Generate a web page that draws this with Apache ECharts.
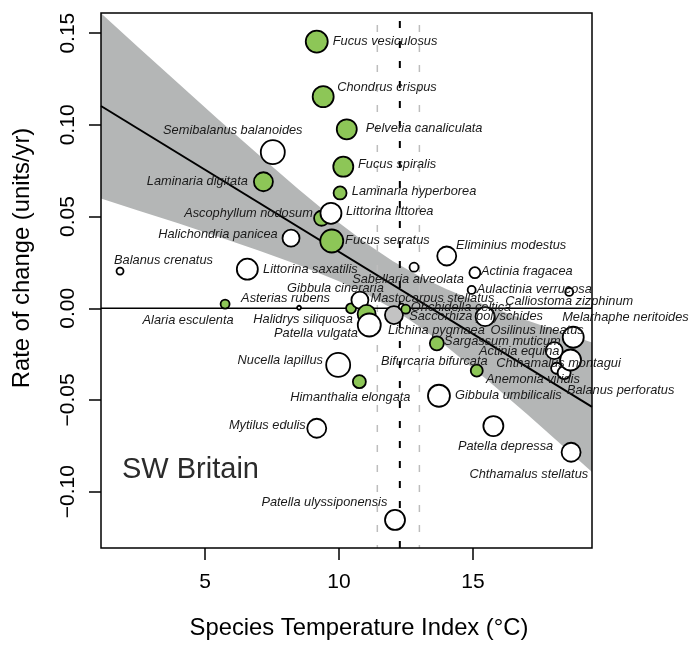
<!DOCTYPE html>
<html>
<head>
<meta charset="utf-8">
<script src="https://cdn.jsdelivr.net/npm/echarts@6/dist/echarts.min.js"></script>
<style>
  html, body { margin: 0; padding: 0; background: #fff; }
  #chart { width: 690px; height: 646px; }
</style>
</head>
<body>
<div id="chart"></div>
<script>
// Species, ordered by Species Temperature Index (drawing order)
const species = [
  'Balanus crenatus', 'Alaria esculenta', 'Littorina saxatilis', 'Laminaria digitata',
  'Semibalanus balanoides', 'Halichondria panicea', 'Asterias rubens', 'Fucus vesiculosus',
  'Mytilus edulis', 'Ascophyllum nodosum', 'Chondrus crispus', 'Littorina littorea',
  'Fucus serratus', 'Nucella lapillus', 'Laminaria hyperborea', 'Fucus spiralis',
  'Pelvetia canaliculata', 'Halidrys siliquosa', 'Himanthalia elongata', 'Gibbula cineraria',
  'Mastocarpus stellatus', 'Patella vulgata', 'Lichina pygmaea', 'Patella ulyssiponensis',
  'Onchidella celtica', 'Saccorhiza polyschides', 'Sabellaria alveolata', 'Sargassum muticum',
  'Gibbula umbilicalis', 'Eliminius modestus', 'Aulactinia verrucosa', 'Actinia fragacea',
  'Bifurcaria bifurcata', 'Osilinus lineatus', 'Patella depressa', 'Actinia equina',
  'Anemonia viridis', 'Balanus perforatus', 'Calliostoma zizphinum', 'Chthamalus montagui',
  'Chthamalus stellatus', 'Melarhaphe neritoides'
];

// Species Temperature Index (°C)
const sti = [
  1.83, 5.75, 6.58, 7.18, 7.53, 8.21, 8.51, 9.17,
  9.17, 9.35, 9.41, 9.70, 9.73, 9.97, 10.04, 10.16,
  10.29, 10.45, 10.76, 10.78, 11.03, 11.13, 12.05, 12.09,
  12.34, 12.49, 12.80, 13.65, 13.73, 14.02, 14.95, 15.07,
  15.14, 15.45, 15.76, 18.03, 18.12, 18.40, 18.59, 18.64,
  18.66, 18.74
];

// Rate of change (units/yr)
const rate = [
  0.0203, 0.0023, 0.0213, 0.0690, 0.0851, 0.0382, 0.0003, 0.1454,
  -0.0654, 0.0491, 0.1154, 0.0518, 0.0367, -0.0309, 0.0629, 0.0772,
  0.0976, 0.0000, -0.0400, 0.0045, -0.0031, -0.0091, -0.0037, -0.1154,
  0.0009, -0.0005, 0.0224, -0.0191, -0.0477, 0.0285, 0.0100, 0.0194,
  -0.0340, -0.0046, -0.0642, -0.0231, -0.0327, -0.0351, 0.0089, -0.0282,
  -0.0785, -0.0158
];

// Taxon type: A = alga, I = invertebrate, L = lichen
const taxon = [
  'I', 'A', 'I', 'A', 'I', 'I', 'I', 'A',
  'I', 'A', 'A', 'I', 'A', 'I', 'A', 'A',
  'A', 'A', 'A', 'I', 'A', 'I', 'L', 'I',
  'I', 'A', 'I', 'A', 'I', 'I', 'I', 'I',
  'A', 'I', 'I', 'I', 'I', 'I', 'I', 'I',
  'I', 'I'
];

// Marker diameters (px)
const markerSize = [
  7, 9, 21, 19, 24, 17, 4, 22,
  19, 15, 21, 21, 23, 24, 13, 20,
  20, 10, 13, 17, 18, 23, 18, 20,
  6, 9, 9, 14, 22, 19, 8, 11,
  12, 19, 20, 17, 11, 13, 8, 21,
  19, 21
];

// Label placement: [align, dx, dy] relative to the marker centre
const labelPlacement = [
  ['left', -6, -11], ['center', -37, 16], ['left', 15.7, 0], ['right', -15.6, 0],
  ['center', -40, -21.6], ['right', -13.3, -3.3], ['center', -13.5, -9.7], ['left', 16, 0],
  ['right', -11, -3], ['right', -8.7, -5], ['left', 14, -9], ['left', 15, -1.6],
  ['left', 13.3, -1], ['right', -15.3, -5], ['left', 11.7, -1], ['left', 14.7, -2.7],
  ['left', 19, -1], ['center', -48, 10.7], ['center', -9, 15.6], ['center', -24.5, -12],
  ['center', 65.8, -16], ['center', -53.3, 8], ['center', 42.5, 15], ['right', -7.7, -17.3],
  ['center', 59.3, 1.3], ['center', 70.3, 7.7], ['center', -6, 12.7], ['left', 7.3, -1.6],
  ['left', 16, 0], ['left', 9.3, -11], ['left', 5, -0.7], ['left', 6, -1.4],
  ['center', -42.5, -9], ['center', 52, 13.3], ['center', 12.2, 20], ['center', -35, 1],
  ['center', -23.7, 10.7], ['center', 56.5, 17.3], ['center', 0, 9.7], ['center', -12, 3],
  ['center', -42.3, 21.7], ['center', 52.2, -20.3]
];

// Axis ticks
const xTicks = [5, 10, 15];
const yTicks = [-0.10, -0.05, 0.00, 0.05, 0.10, 0.15];
const xRange = [1.12, 19.44];
const yRange = [-0.1307, 0.161];

// Fitted regression line (end points)
const fitX = [1.12, 19.44];
const fitY = [0.1103, -0.0538];

// 95% confidence band of the fit
const bandX    = [1.12, 2.5, 4, 5.5, 7, 8.5, 10, 11, 12, 13, 14, 15.5, 17, 18.5, 19.44];
const bandLow  = [0.0598, 0.0533, 0.0463, 0.0390, 0.0315, 0.0236, 0.0148, 0.0079, -0.0002, -0.0099, -0.0207, -0.0387, -0.0575, -0.0770, -0.0892];
const bandHigh = [0.1608, 0.1425, 0.1227, 0.1030, 0.0837, 0.0647, 0.0466, 0.0356, 0.0258, 0.0175, 0.0105, 0.0015, -0.0065, -0.0140, -0.0186];

// Community mean STI and its interval
const stiMean = 12.27;
const stiInterval = [11.43, 13.00];

const FONT = '"Liberation Sans", Arial, Helvetica, sans-serif';
const fillFor = { A: '#8dc657', I: '#ffffff', L: '#c3c3c3' };

const points = species.map((name, i) => ({
  name: name,
  value: [sti[i], rate[i]],
  symbolSize: markerSize[i],
  itemStyle: { color: fillFor[taxon[i]] }
}));

const vLine = (x) => [[x, yRange[0]], [x, yRange[1]]];

const chart = echarts.init(document.getElementById('chart'), null, { renderer: 'canvas' });

chart.setOption({
  animation: false,
  backgroundColor: '#ffffff',
  grid: { left: 101, right: 98, top: 13, bottom: 98, containLabel: false },
  xAxis: {
    type: 'value', min: xRange[0], max: xRange[1],
    axisLine: { show: false, onZero: false },
    splitLine: { show: false },
    axisTick: { show: true, customValues: xTicks, length: 12, lineStyle: { color: '#000', width: 1.5 } },
    axisLabel: { customValues: xTicks, margin: 24, fontSize: 21, color: '#000', fontFamily: FONT }
  },
  yAxis: {
    type: 'value', min: yRange[0], max: yRange[1],
    axisLine: { show: false, onZero: false },
    splitLine: { show: false },
    axisTick: { show: true, customValues: yTicks, length: 12, lineStyle: { color: '#000', width: 1.5 } },
    axisLabel: {
      customValues: yTicks, rotate: 90, margin: 22, fontSize: 21, color: '#000', fontFamily: FONT,
      formatter: (v) => (v < -1e-9 ? '\u2212' : '') + Math.abs(v).toFixed(2)
    }
  },
  graphic: [
    {
      type: 'text', x: 359, y: 628, z: 50,
      style: { text: 'Species Temperature Index (°C)', font: '23.8px ' + FONT, fill: '#000', align: 'center', verticalAlign: 'middle' }
    },
    {
      type: 'text', x: 22, y: 258, rotation: Math.PI / 2, z: 50,
      style: { text: 'Rate of change (units/yr)', font: '23.8px ' + FONT, fill: '#000', align: 'center', verticalAlign: 'middle' }
    },
    {
      type: 'text', left: 122, top: 455, z: 50,
      style: { text: 'SW Britain', font: '29px ' + FONT, fill: '#2b2b2b' }
    },
    {
      type: 'rect', z: 100, silent: true,
      shape: { x: 101, y: 13, width: 491, height: 535 },
      style: { fill: null, stroke: '#000', lineWidth: 1.5 }
    }
  ],
  series: [
    {
      type: 'custom', silent: true, z: 1,
      data: [0],
      renderItem: (params, api) => {
        const pts = [];
        for (let i = 0; i < bandX.length; i++) pts.push(api.coord([bandX[i], bandHigh[i]]));
        for (let i = bandX.length - 1; i >= 0; i--) pts.push(api.coord([bandX[i], bandLow[i]]));
        const cs = params.coordSys;
        return {
          type: 'polygon',
          shape: { points: pts },
          style: { fill: '#b4b6b6' },
          clipPath: { type: 'rect', shape: { x: cs.x, y: cs.y, width: cs.width, height: cs.height } }
        };
      }
    },
    {
      type: 'line', z: 2, silent: true, symbol: 'none',
      data: vLine(stiInterval[0]),
      lineStyle: { color: '#bdbdbd', width: 1.5, type: [7, 13], dashOffset: 4 }
    },
    {
      type: 'line', z: 2, silent: true, symbol: 'none',
      data: vLine(stiInterval[1]),
      lineStyle: { color: '#bdbdbd', width: 1.5, type: [7, 13], dashOffset: 4 }
    },
    {
      type: 'line', z: 2, silent: true, symbol: 'none',
      data: vLine(stiMean),
      lineStyle: { color: '#000', width: 2, type: [7, 13] }
    },
    {
      type: 'line', z: 3, silent: true, symbol: 'none',
      data: [[xRange[0], 0], [xRange[1], 0]],
      lineStyle: { color: '#000', width: 1.5 }
    },
    {
      type: 'line', z: 3, silent: true, symbol: 'none',
      data: fitX.map((x, i) => [x, fitY[i]]),
      lineStyle: { color: '#000', width: 2 }
    },
    {
      type: 'scatter', z: 4,
      symbol: 'circle',
      data: points,
      itemStyle: { borderColor: '#000', borderWidth: 1.8, opacity: 1 },
      label: {
        show: true, position: 'inside',
        formatter: '{b}',
        fontFamily: FONT, fontStyle: 'italic', fontSize: 12.8, color: '#1a1a1a',
        verticalAlign: 'middle'
      },
      labelLayout: (params) => {
        const p = labelPlacement[params.dataIndex];
        return { dx: p[1], dy: p[2], align: p[0], verticalAlign: 'middle', hideOverlap: false };
      },
      emphasis: { disabled: true }
    }
  ]
});
</script>
</body>
</html>
